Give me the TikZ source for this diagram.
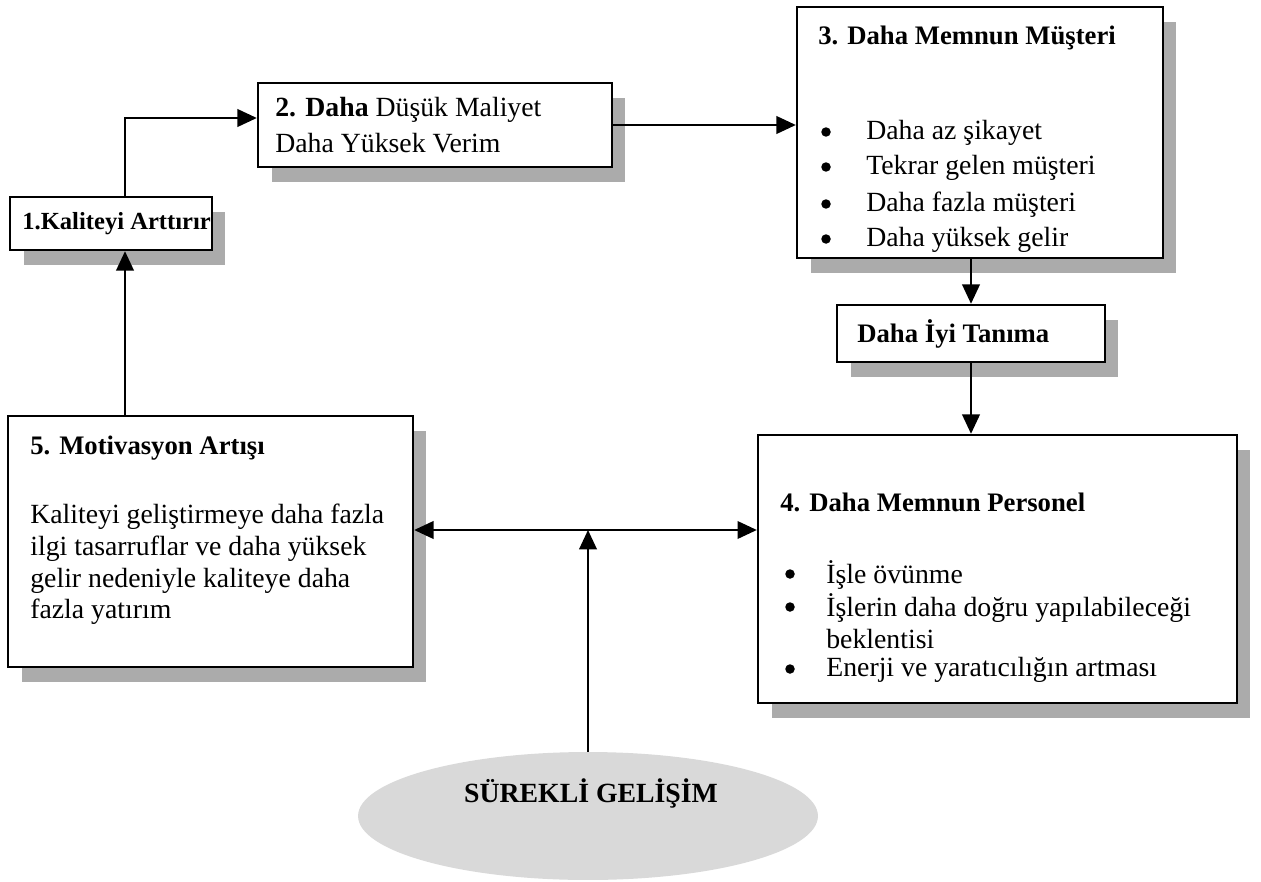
\documentclass[tikz,border=0pt]{standalone}
\usepackage{fontspec}
\setmainfont{Liberation Serif}
\usetikzlibrary{shapes.geometric,shadows,arrows.meta}
\begin{document}
\begin{tikzpicture}[x=0.02cm,y=-0.02cm,
  box/.style={draw=black,line width=1.4pt,fill=white,inner sep=0pt,
    drop shadow={shadow xshift=0.27cm,shadow yshift=-0.3cm,fill=gray!66,opacity=1}},
  txt/.style={anchor=west,inner sep=0pt,font=\fontsize{15.8}{20}\selectfont,align=left},
  btxt/.style={txt,font=\fontsize{15.2}{20}\selectfont\bfseries},
  dot/.style={circle,fill=black,inner sep=0pt,minimum size=0.19cm},
  conn/.style={line width=1.1pt,-{Triangle[length=11pt,width=10pt]}},
  conn2/.style={line width=1.1pt,{Triangle[length=11pt,width=10pt]}-{Triangle[length=11pt,width=10pt]}}]
\useasboundingbox (0,0) rectangle (1261,882);
% boxes
\node[box,minimum width=4.04cm,minimum height=1.06cm] (b1) at (111,223.5) {};
\node[box,minimum width=7.08cm,minimum height=1.68cm] (b2) at (435,125) {};
\node[box,minimum width=7.32cm,minimum height=5.02cm] (b3) at (980,132.5) {};
\node[box,minimum width=5.36cm,minimum height=1.14cm] (bt) at (971,333.5) {};
\node[box,minimum width=9.58cm,minimum height=5.36cm] (b4) at (997.5,569) {};
\node[box,minimum width=8.10cm,minimum height=5.02cm] (b5) at (210.5,541.5) {};
\node[ellipse,fill=gray!30,minimum width=9.2cm,minimum height=2.56cm,inner sep=0pt] (ell) at (588,816) {};
% texts
\node[btxt,font=\fontsize{14}{20}\selectfont\bfseries] (t1) at (22,223.5) {1.Kaliteyi Arttırır};
\node[txt] (t2a) at (275,110) {\textbf{2. Daha} Düşük Maliyet};
\node[txt] (t2b) at (275,143) {Daha Yüksek Verim};
\node[btxt] (t3) at (818,38) {3. Daha Memnun Müşteri};
\node[dot] (d31) at (826,132) {};
\node[txt] (t31) at (866,133) {Daha az şikayet};
\node[dot] (d32) at (826,167) {};
\node[txt] (t32) at (866,168) {Tekrar gelen müşteri};
\node[dot] (d33) at (826,204) {};
\node[txt] (t33) at (866,205) {Daha fazla müşteri};
\node[dot] (d34) at (826,239) {};
\node[txt] (t34) at (866,240) {Daha yüksek gelir};
\node[btxt] (tt) at (857,333.5) {Daha İyi Tanıma};
\node[btxt] (t4) at (780,502) {4. Daha Memnun Personel};
\node[dot] (d41) at (790,574) {};
\node[txt] (t41) at (826,575) {İşle övünme};
\node[dot] (d42) at (790,607) {};
\node[txt] (t42) at (826,608) {İşlerin daha doğru yapılabileceği};
\node[txt] (t43) at (826,639) {beklentisi};
\node[dot] (d44) at (790,669) {};
\node[txt] (t44) at (826,670) {Enerji ve yaratıcılığın artması};
\node[btxt] (t5) at (30,448) {5. Motivasyon Artışı};
\node[txt] (t51) at (30,517) {Kaliteyi geliştirmeye daha fazla};
\node[txt] (t52) at (30,549) {ilgi tasarruflar ve daha yüksek};
\node[txt] (t53) at (30,581) {gelir nedeniyle kaliteye daha};
\node[txt] (t54) at (30,612) {fazla yatırım};
\node[btxt,anchor=center,font=\fontsize{15.8}{20}\selectfont\bfseries] (te) at (591,793) {SÜREKLİ GELİŞİM};
% helper coordinates
\coordinate (k1) at (125,223.5);
\coordinate (k2) at (435,118);
\coordinate (h) at (588,530);
% connectors
\draw[conn] (b1.north -| k1) |- (b2.west |- k2);
\draw[conn] (b2.east) -- (b2.east -| b3.west);
\draw[conn] (b3.south -| bt.north) -- (bt.north);
\draw[conn] (bt.south) -- (bt.south |- b4.north);
\draw[conn] (b5.north -| k1) -- (b1.south -| k1);
\draw[conn2] (b5.east |- h) -- (b4.west |- h);
\draw[conn] (ell.north) -- (h);
\end{tikzpicture}
\end{document}
